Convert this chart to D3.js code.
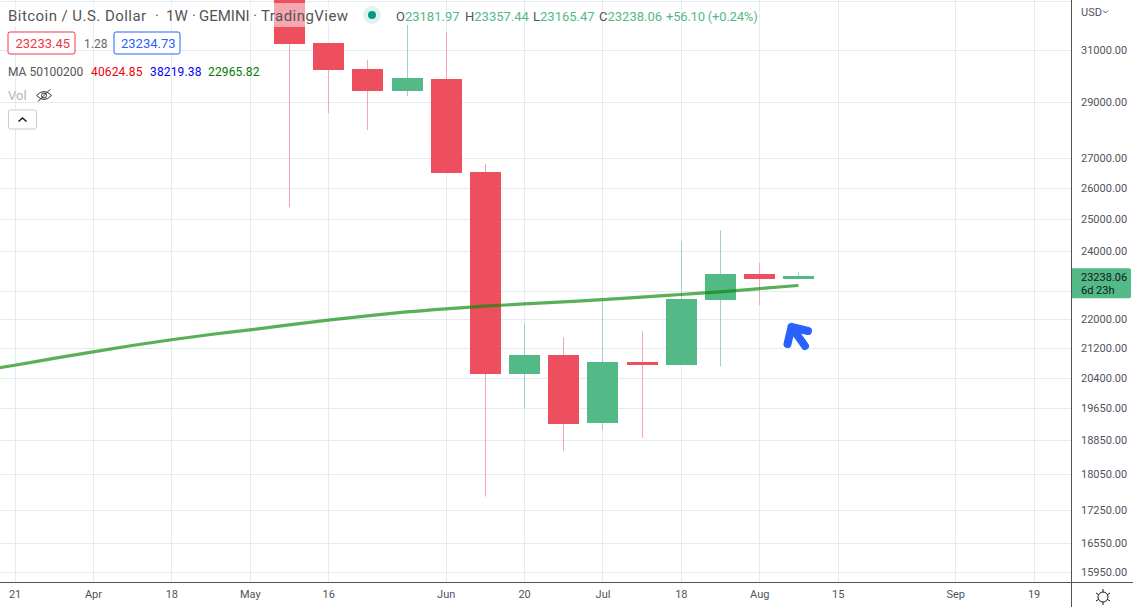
<!DOCTYPE html>
<html>
  <head>
    <title>Bitcoin / U.S. Dollar</title>
    <script src="https://cdn.jsdelivr.net/npm/d3@7/dist/d3.min.js"></script>
    <style>
      html, body {margin: 0; padding: 0; background: #fff; overflow: hidden;}
      svg {display: block;}
      text {font-family: Roboto, "Liberation Sans", sans-serif; font-size: 12px; fill: #50535e;}
      .domain {display: none;}
    </style>
  </head>
  <body>
    <svg width="1133" height="607" id="mainsvg"></svg>
    <script>
        // weekly candles
        const candleDates = ['2022-05-09','2022-05-16','2022-05-23','2022-05-30','2022-06-06','2022-06-13','2022-06-20',
          '2022-06-27','2022-07-04','2022-07-11','2022-07-18','2022-07-25','2022-08-01','2022-08-08'];
        const opens  = [34000, 31278, 30258, 29420, 29874, 26534, 20504, 21008, 19269, 20821, 20742, 22536, 23296, 23181.97];
        const highs  = [34200, 31278, 30607, 32005, 31720, 26805, 21883, 21496, 22506, 21661, 24295, 24638, 23630, 23357.44];
        const lows   = [25370, 28606, 27993, 29234, 26500, 17547, 19641, 18592, 19098, 18905, 20742, 20716, 22391, 23165.47];
        const closes = [31237, 30219, 29420, 29913, 26500, 20504, 21008, 19244, 20821, 20742, 22563, 23296, 23148, 23238.06];

        // MA 200, one value a week
        const maDates = ['2022-03-14','2022-03-21','2022-03-28','2022-04-04','2022-04-11','2022-04-18','2022-04-25','2022-05-02',
          '2022-05-09','2022-05-16','2022-05-23','2022-05-30','2022-06-06','2022-06-13','2022-06-20','2022-06-27','2022-07-04',
          '2022-07-11','2022-07-18','2022-07-25','2022-08-01','2022-08-08'];
        const maValues = [20573, 20744, 20925, 21102, 21272, 21430, 21573, 21702, 21839, 21970, 22093, 22203, 22291, 22365,
          22431, 22491, 22552, 22624, 22702, 22780, 22871, 22966];

        const priceTicks = [31000, 29000, 27000, 26000, 25000, 24000, 22000, 21200, 20400, 19650, 18850, 18050, 17250, 16550, 15950];
        const hiddenGridPrices = [33000, 22800]; // grid lines whose labels are off the chart or under the price tag
        const dateTicks = ['2022-03-21','2022-04-04','2022-04-18','2022-05-02','2022-05-16','2022-06-06','2022-06-20',
          '2022-07-04','2022-07-18','2022-08-01','2022-08-15','2022-09-05','2022-09-19'];
        const dateLabels = ['21','Apr','18','May','16','Jun','20','Jul','18','Aug','15','Sep','19'];
        const lastPrice = 23238.06;

        const svg = d3.select('#mainsvg');
        const width = +svg.attr('width');
        const height = +svg.attr('height');
        const plotW = 1071, plotH = 582;
        const red = '#ee4f5f', green = '#53b987';
        const parse = d3.utcParse('%Y-%m-%d');

        const x = d3.scaleUtc().domain([parse('2022-03-21'), parse('2022-09-19')]).range([14.6, 1033.6]);
        const y = d3.scaleLog().domain([15950, 31000]).range([571.5, 50]);

        svg.append('clipPath').attr('id', 'plotclip').append('rect').attr('width', plotW).attr('height', plotH);
        const plot = svg.append('g').attr('clip-path', 'url(#plotclip)');

        // grid
        const gridColor = '#e4ebf1';
        plot.append('g').selectAll('line').data(dateTicks).join('line')
          .attr('x1', d => Math.round(x(parse(d))) + 0.5).attr('x2', d => Math.round(x(parse(d))) + 0.5)
          .attr('y1', 0).attr('y2', plotH).attr('stroke', gridColor);
        plot.append('g').selectAll('line').data(priceTicks.concat(hiddenGridPrices)).join('line')
          .attr('y1', d => Math.round(y(d)) + 0.5).attr('y2', d => Math.round(y(d)) + 0.5)
          .attr('x1', 0).attr('x2', plotW).attr('stroke', gridColor);

        // candles
        const candles = candleDates.map((d, i) => ({date: parse(d), o: opens[i], h: highs[i], l: lows[i], c: closes[i]}));
        const isUp = d => d.c >= d.o;
        const cg = plot.append('g').selectAll('g').data(candles).join('g');
        cg.append('line')
          .attr('x1', d => Math.round(x(d.date)) + 0.5).attr('x2', d => Math.round(x(d.date)) + 0.5)
          .attr('y1', d => y(d.h)).attr('y2', d => y(d.l))
          .attr('stroke', d => isUp(d) ? '#9fd0cd' : '#f6a5ad');
        cg.append('rect')
          .attr('x', d => Math.round(x(d.date)) - 15).attr('width', 31)
          .attr('y', d => y(Math.max(d.o, d.c)))
          .attr('height', d => Math.max(3, y(Math.min(d.o, d.c)) - y(Math.max(d.o, d.c))))
          .attr('fill', d => isUp(d) ? green : red)
          .attr('shape-rendering', 'crispEdges');

        // MA 200
        const maLine = d3.line().curve(d3.curveMonotoneX).x(d => x(parse(d.date))).y(d => y(d.value));
        plot.append('path').datum(maDates.map((d, i) => ({date: d, value: maValues[i]})))
          .attr('d', maLine).attr('fill', 'none')
          .attr('stroke', '#0a8a0a').attr('stroke-opacity', 0.68).attr('stroke-width', 3.2);

        // hand drawn blue arrow
        svg.append('path').attr('d', 'M787.5,344L791.5,327L808,331M791.5,327L805,346')
          .attr('fill', 'none').attr('stroke', '#2962ff').attr('stroke-width', 8)
          .attr('stroke-linecap', 'round').attr('stroke-linejoin', 'round');

        // axes
        svg.append('g').attr('transform', `translate(${plotW},0)`)
          .call(d3.axisRight(y).tickValues(priceTicks).tickSize(0).tickPadding(10).tickFormat(d3.format('.2f')));
        svg.append('g').attr('transform', `translate(0,${plotH})`)
          .call(d3.axisBottom(x).tickValues(dateTicks.map(parse)).tickSize(0).tickPadding(8)
            .tickFormat((d, i) => dateLabels[i]));
        svg.selectAll('.tick text').style('font-size', '11px').style('fill', '#50535e');
        svg.append('line').attr('x1', plotW + 0.5).attr('x2', plotW + 0.5).attr('y1', 0).attr('y2', height).attr('stroke', '#50535e');
        svg.append('line').attr('x1', 0).attr('x2', width).attr('y1', plotH + 0.5).attr('y2', plotH + 0.5).attr('stroke', '#50535e');

        // last price tag
        const tagY = y(lastPrice);
        svg.append('path').attr('d', `M${plotW + 1},${tagY - 8}h57a2,2 0 0 1 2,2v26a2,2 0 0 1 -2,2h-57z`).attr('fill', green);
        svg.append('text').attr('x', 1081).attr('y', tagY + 5).text(d3.format('.2f')(lastPrice)).style('font-size', '11px').style('fill', '#131722');
        svg.append('text').attr('x', 1081).attr('y', tagY + 18).text('6d 23h').style('font-size', '11px').style('fill', '#131722');

        // currency
        svg.append('text').attr('x', 1081).attr('y', 16).text('USD').style('font-size', '11px');
        svg.append('path').attr('d', 'M1103,10.5l2.5,2.5l2.5,-2.5').attr('fill', 'none').attr('stroke', '#50535e');

        // settings icon
        const gear = svg.append('g').attr('transform', 'translate(1103,597)').attr('stroke', '#131722').attr('fill', 'none');
        gear.append('circle').attr('r', 5);
        gear.append('path').attr('d', 'M0,-8v3M0,5v3M-7,-4l2.5,1.5M7,-4l-2.5,1.5M-7,4l2.5,-1.5M7,4l-2.5,-1.5');

        // legend
        svg.append('rect').attr('x', 4).attr('y', 3).attr('width', 344).attr('height', 24).attr('fill', '#fff').attr('opacity', 0.5);
        const titleParts = ['Bitcoin / U.S. Dollar', '·', '1W', '·', 'GEMINI', '·', 'TradingView'];
        const titleX = [8, 155, 166, 192, 199, 253, 261];
        const titleSpacing = [0.45, 0, 0, 0, 0, 0, 0.45];
        titleParts.forEach((p, i) => {
          svg.append('text').attr('x', titleX[i]).attr('y', 21).style('font-size', '15px').style('letter-spacing', titleSpacing[i] + 'px')
            .style('fill', '#555').text(p);
        });
        svg.append('circle').attr('cx', 372).attr('cy', 15).attr('r', 9).attr('fill', '#e0f3ef');
        svg.append('circle').attr('cx', 372).attr('cy', 15).attr('r', 4).attr('fill', '#089981');

        const ohlcLabels = ['O', 'H', 'L', 'C'];
        const ohlcX = [396, 465, 533, 599];
        const ohlcValues = [23181.97, 23357.44, 23165.47, 23238.06];
        ohlcLabels.forEach((l, i) => {
          const t = svg.append('text').attr('x', ohlcX[i]).attr('y', 21).style('font-size', '13px');
          t.append('tspan').text(l).style('fill', '#50535e');
          t.append('tspan').text(d3.format('.2f')(ohlcValues[i])).style('fill', green);
        });
        svg.append('text').attr('x', 666).attr('y', 21).style('font-size', '13px').style('letter-spacing', '-0.2px')
          .style('fill', green).text('+56.10 (+0.24%)');

        // bid / ask
        svg.append('rect').attr('x', 8).attr('y', 32).attr('width', 67).attr('height', 22).attr('rx', 2)
          .attr('fill', '#fff').attr('stroke', '#ef3a4c');
        svg.append('text').attr('x', 15.5).attr('y', 48).style('font-size', '13px').style('fill', '#f23645').text('23233.45');
        svg.append('text').attr('x', 84).attr('y', 47.5).style('fill', '#666').text('1.28');
        svg.append('rect').attr('x', 114).attr('y', 32).attr('width', 66).attr('height', 22).attr('rx', 2)
          .attr('fill', '#fff').attr('stroke', '#2962ff');
        svg.append('text').attr('x', 121).attr('y', 48).style('font-size', '13px').style('fill', '#2962ff').text('23234.73');

        // indicator row
        svg.append('text').attr('x', 8).attr('y', 76).style('fill', '#555').text('MA 50100200');
        const maLegendValues = ['40624.85', '38219.38', '22965.82'];
        const maLegendColors = ['#f00000', '#0000ff', '#007a00'];
        const maLegendX = [91, 150, 208];
        maLegendValues.forEach((v, i) => {
          svg.append('text').attr('x', maLegendX[i]).attr('y', 76).style('letter-spacing', '0.15px').style('fill', maLegendColors[i]).text(v);
        });

        svg.append('text').attr('x', 8).attr('y', 100).style('font-size', '13px').style('fill', '#b2b5be').text('Vol');
        const eye = svg.append('g').attr('transform', 'translate(44,95.5)').attr('fill', 'none').attr('stroke', '#333');
        eye.append('path').attr('d', 'M-7.5,0Q0,-8 7.5,0Q0,8 -7.5,0z');
        eye.append('circle').attr('r', 2.5);
        eye.append('path').attr('d', 'M-6,6L6,-6');

        svg.append('rect').attr('x', 8.5).attr('y', 110).attr('width', 28).attr('height', 19).attr('rx', 2)
          .attr('fill', '#fff').attr('stroke', '#c9cbd1');
        svg.append('path').attr('d', 'M18.5,121.5l4,-3.5l4,3.5').attr('fill', 'none').attr('stroke', '#131722').attr('stroke-width', 1.5);
    </script>
  </body>
</html>
